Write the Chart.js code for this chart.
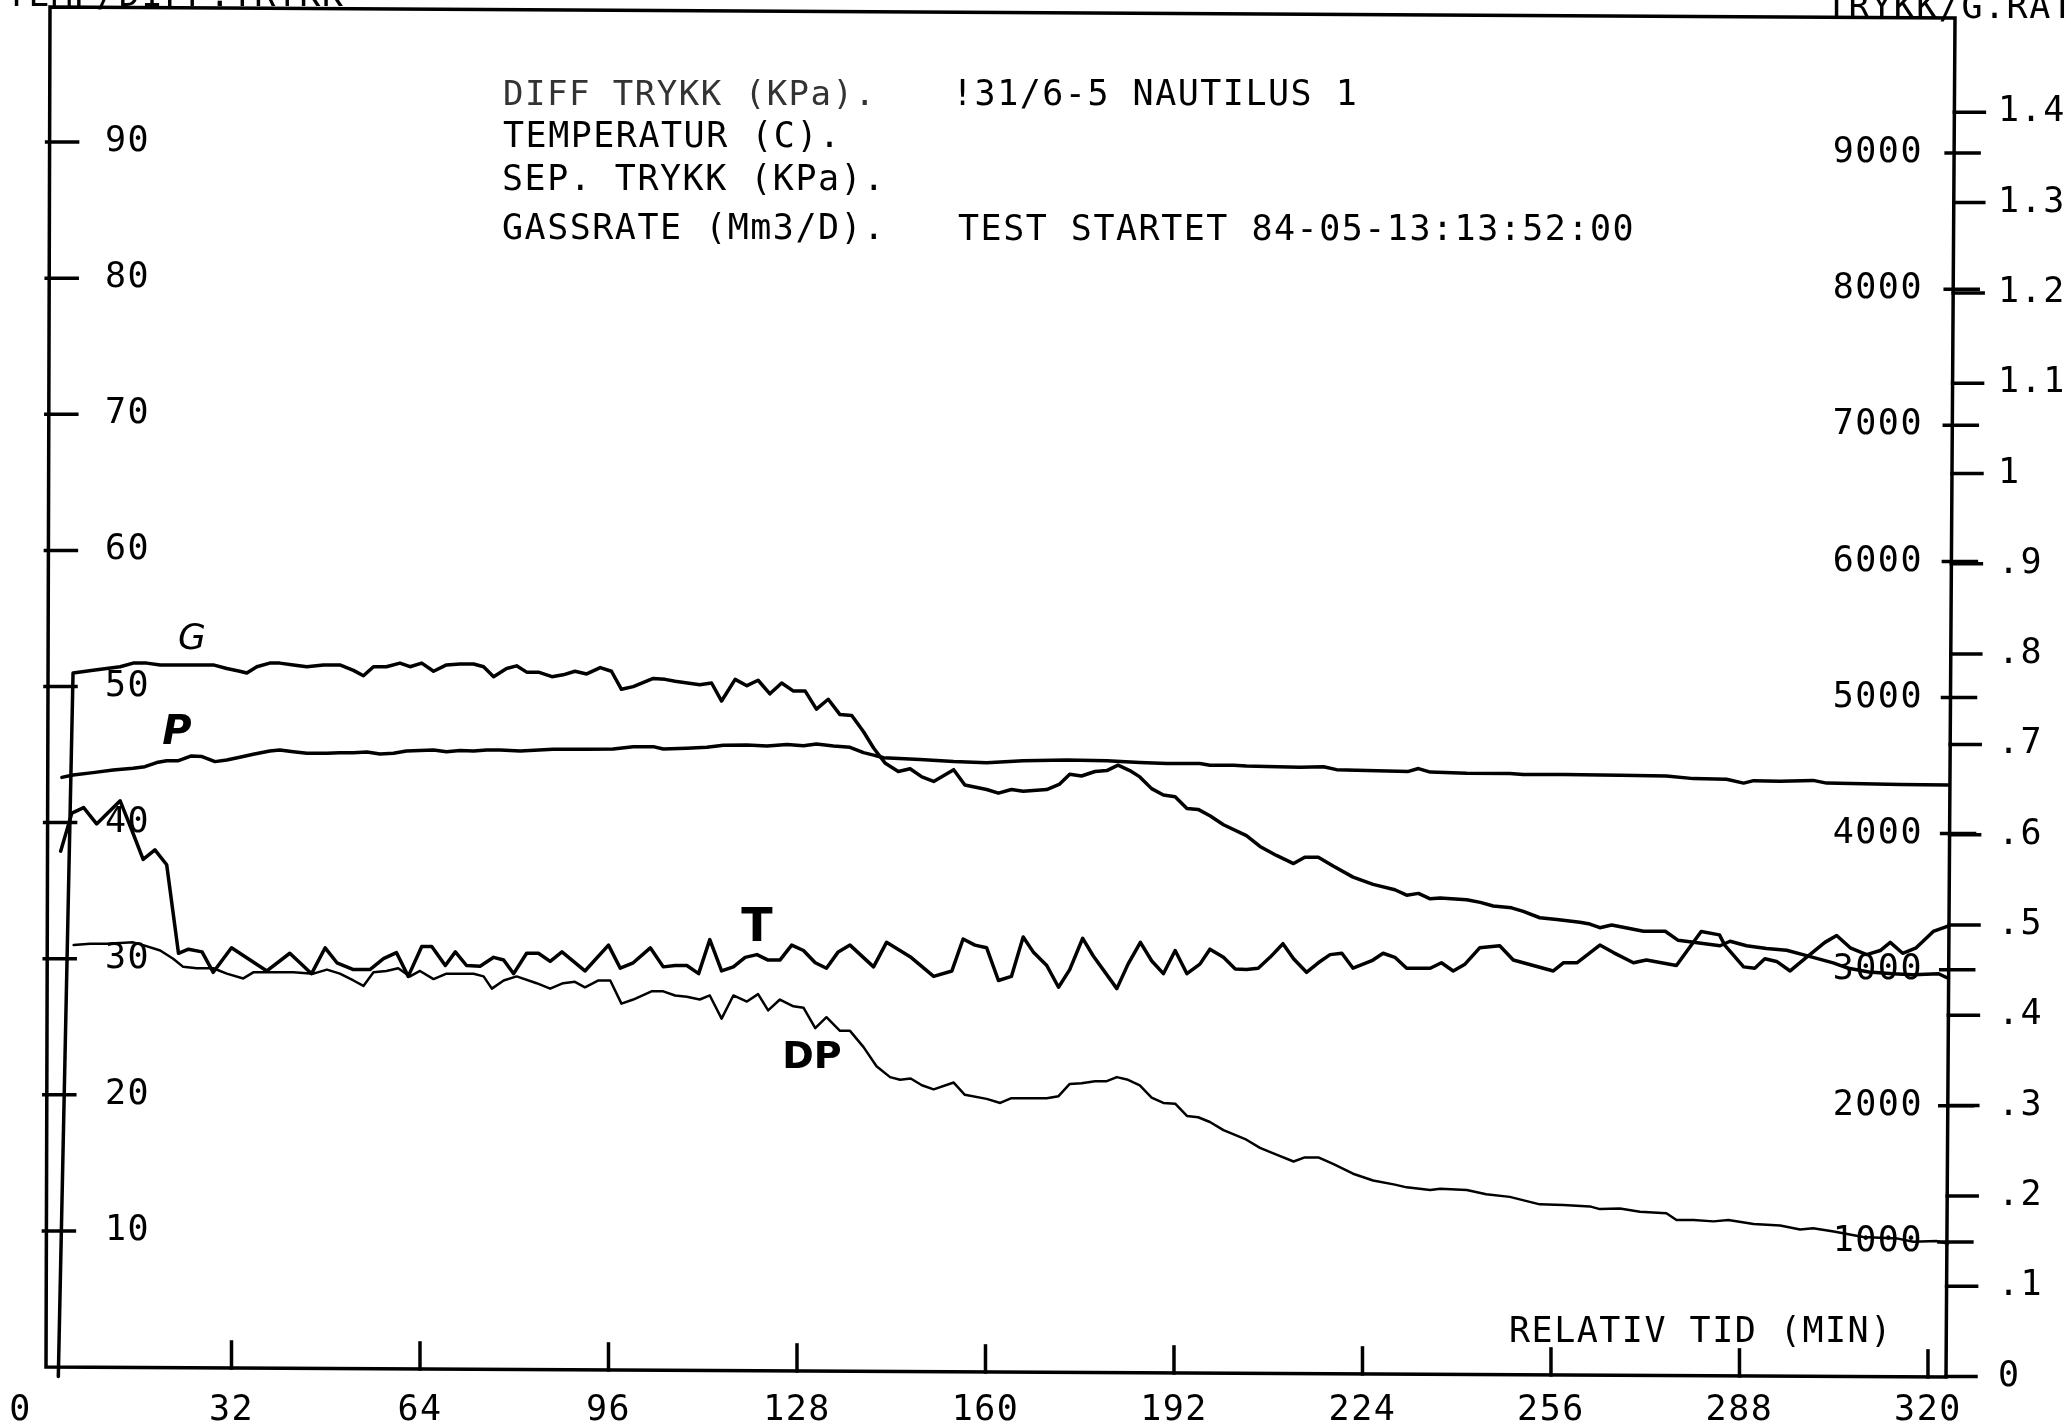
<!DOCTYPE html>
<html>
<head>
<meta charset="utf-8">
<title>31/6-5 NAUTILUS 1</title>
<script src="https://cdn.jsdelivr.net/npm/chart.js@4.4.1/dist/chart.umd.min.js"></script>
<style>
  html, body { margin: 0; padding: 0; background: #fff; }
  #wrap { width: 2071px; height: 1426px; }
</style>
</head>
<body>
<div id="wrap"><canvas id="plot" width="2071" height="1426"></canvas></div>
<script>
/* ---------------- DATA ---------------- */

// relative time axis (min)
const timeTicks = [0, 32, 64, 96, 128, 160, 192, 224, 256, 288, 320];
// left axis: temperature (C) / diff pressure (kPa)
const leftTicks = [10, 20, 30, 40, 50, 60, 70, 80, 90];
// right inner axis: separator pressure (kPa)
const pressTicks = [1000, 2000, 3000, 4000, 5000, 6000, 7000, 8000, 9000];
// right outer axis: gas rate (Mm3/D)
const rateTicks = [0, 0.1, 0.2, 0.3, 0.4, 0.5, 0.6, 0.7, 0.8, 0.9, 1, 1.1, 1.2, 1.3, 1.4];

// G - gas rate
const gasMin = [
  2.6, 5.1, 8.5, 10.8, 13.1, 15.3, 17.6, 19.9, 22.1, 26.7,
  28.9, 31.2, 33.4, 34.6, 36.3, 38.5, 40.2, 42.5, 44.8, 47.6,
  50.4, 52.7, 54.4, 56.1, 58.3, 60.6, 62.3, 64.3, 66.3, 68.5,
  70.8, 73.1, 74.8, 76.5, 78.7, 80.4, 82.1, 84.1, 86.4, 88.3,
  90.3, 92.3, 94.6, 96.5, 98.2, 100.2, 103.6, 105.6, 107.3, 111.5,
  113.5, 115.2, 117.5, 119.5, 121.4, 123.4, 125.4, 127.4, 129.4, 131.3,
  133.3, 135.3, 137.3, 139.3, 141.0, 143.0, 145.2, 147.2, 149.2, 151.2,
  154.6, 156.5, 160.2, 162.2, 164.4, 166.4, 170.4, 172.6, 174.3, 176.3,
  178.6, 180.6, 182.5, 184.5, 186.2, 188.2, 190.2, 192.2, 194.2, 196.1,
  198.1, 200.4, 204.3, 206.6, 209.4, 212.3, 214.2, 216.5, 219.1, 222.4,
  225.8, 229.5, 231.5, 233.5, 235.5, 237.2, 241.7, 244.0, 246.2, 249.3,
  251.3, 254.1, 257.0, 260.9, 262.6, 264.3, 266.3, 271.7, 275.4, 277.6,
  280.2, 284.7, 286.4, 289.2, 292.6, 296.0, 299.4, 303.9, 306.5, 310.0,
  314.0, 317.5, 321.8, 323.4
];
const gasRate = [
  0, 0.779, 0.782, 0.784, 0.786, 0.790, 0.790, 0.788, 0.788, 0.788,
  0.788, 0.784, 0.781, 0.779, 0.786, 0.790, 0.790, 0.788, 0.786, 0.788,
  0.788, 0.782, 0.776, 0.786, 0.786, 0.790, 0.786, 0.790, 0.781, 0.788,
  0.789, 0.789, 0.786, 0.775, 0.784, 0.787, 0.780, 0.780, 0.775, 0.777,
  0.781, 0.778, 0.785, 0.781, 0.761, 0.764, 0.773, 0.772, 0.770, 0.766,
  0.768, 0.748, 0.772, 0.765, 0.771, 0.756, 0.768, 0.759, 0.759, 0.739,
  0.750, 0.733, 0.732, 0.714, 0.696, 0.679, 0.670, 0.673, 0.664, 0.659,
  0.672, 0.655, 0.650, 0.646, 0.650, 0.648, 0.650, 0.656, 0.667, 0.665,
  0.670, 0.671, 0.677, 0.671, 0.664, 0.651, 0.644, 0.642, 0.629, 0.628,
  0.621, 0.611, 0.599, 0.587, 0.577, 0.568, 0.575, 0.575, 0.565, 0.553,
  0.545, 0.539, 0.533, 0.535, 0.529, 0.530, 0.528, 0.525, 0.521, 0.519,
  0.515, 0.508, 0.506, 0.503, 0.501, 0.497, 0.500, 0.493, 0.493, 0.483,
  0.481, 0.477, 0.482, 0.477, 0.474, 0.472, 0.466, 0.458, 0.452, 0.448,
  0.446, 0.445, 0.446, 0.441
];

// P - separator pressure
const sepMin = [
  3.2, 5.1, 8.5, 11.9, 15.3, 17.3, 19.3, 21.0, 23.0, 25.2,
  27.0, 29.2, 31.2, 33.4, 35.7, 38.5, 40.2, 42.5, 44.8, 48.2,
  50.4, 52.7, 55.0, 57.2, 59.5, 61.7, 64.0, 66.3, 68.5, 70.8,
  73.1, 75.3, 77.6, 81.0, 86.6, 92.3, 96.8, 100.2, 103.6, 105.3,
  109.3, 112.7, 115.5, 119.5, 122.9, 126.3, 129.1, 131.3, 134.2, 137.0,
  139.3, 141.0, 142.7, 148.9, 154.6, 160.2, 166.4, 173.8, 180.6, 186.2,
  190.8, 196.4, 198.1, 202.1, 204.3, 207.7, 213.4, 217.4, 219.6, 224.7,
  231.8, 233.5, 235.5, 241.7, 249.0, 251.3, 258.1, 267.7, 275.6, 280.2,
  285.8, 288.7, 290.4, 294.9, 300.5, 302.8, 309.0, 315.3, 323.4
];
const sepPressure = [
  4413, 4431, 4448, 4467, 4480, 4492, 4522, 4536, 4536, 4571,
  4566, 4529, 4541, 4561, 4583, 4607, 4615, 4602, 4590, 4590,
  4595, 4595, 4600, 4585, 4590, 4607, 4610, 4615, 4602, 4610,
  4607, 4615, 4615, 4607, 4619, 4619, 4622, 4639, 4639, 4622,
  4627, 4634, 4649, 4651, 4644, 4654, 4646, 4658, 4644, 4634,
  4595, 4577, 4557, 4545, 4530, 4521, 4535, 4541, 4535, 4522,
  4515, 4515, 4503, 4503, 4496, 4494, 4488, 4491, 4470, 4464,
  4457, 4478, 4452, 4444, 4442, 4434, 4434, 4429, 4424, 4404,
  4399, 4371, 4389, 4384, 4391, 4371, 4366, 4361, 4358
];

// T - temperature
const tempMin = [
  3.0, 4.9, 6.9, 9.1, 13.1, 15.3, 17.0, 19.0, 21.0, 23.0,
  24.7, 27.0, 28.9, 32.0, 38.0, 41.9, 45.6, 47.9, 49.9, 52.7,
  55.5, 57.8, 60.0, 62.0, 64.3, 66.0, 68.3, 70.0, 71.9, 74.2,
  76.5, 78.2, 79.9, 82.1, 84.1, 86.1, 88.1, 92.0, 96.0, 98.0,
  100.2, 103.1, 105.3, 107.3, 109.3, 111.3, 113.2, 115.2, 117.2, 119.2,
  121.2, 123.1, 125.1, 127.1, 129.1, 131.1, 133.0, 135.0, 137.0, 141.0,
  143.2, 147.2, 151.2, 154.3, 156.2, 158.2, 160.2, 162.2, 164.4, 166.4,
  168.1, 170.4, 172.4, 174.3, 176.5, 178.3, 182.3, 184.2, 186.3, 188.2,
  190.2, 192.2, 194.2, 196.4, 198.1, 200.4, 202.4, 204.3, 206.3, 208.3,
  210.5, 212.3, 214.5, 216.5, 218.5, 220.5, 222.4, 225.6, 227.5, 229.5,
  231.5, 235.5, 237.4, 239.4, 241.4, 243.9, 247.3, 249.6, 256.4, 258.1,
  260.4, 264.3, 266.6, 270.0, 272.2, 277.3, 281.5, 284.6, 285.5, 288.7,
  290.6, 292.3, 294.3, 296.6, 298.8, 302.5, 304.5, 306.8, 309.6, 311.9,
  313.6, 315.7, 318.0, 320.9, 323.4
];
const temperature = [
  37.9, 40.7, 41.1, 39.9, 41.6, 39.2, 37.3, 38.0, 36.9, 30.4,
  30.7, 30.5, 29.0, 30.8, 29.1, 30.4, 28.9, 30.8, 29.7, 29.2,
  29.2, 30.0, 30.45, 28.7, 30.9, 30.9, 29.5, 30.5, 29.5, 29.45,
  30.1, 29.9, 28.9, 30.4, 30.4, 29.8, 30.5, 29.1, 31.0, 29.3,
  29.7, 30.8, 29.4, 29.5, 29.5, 28.9, 31.4, 29.1, 29.4, 30.1,
  30.3, 29.9, 29.9, 31.0, 30.6, 29.7, 29.3, 30.5, 31.0, 29.4,
  31.2, 30.15, 28.7, 29.1, 31.45, 31.0, 30.8, 28.4, 28.7, 31.6,
  30.5, 29.5, 27.9, 29.2, 31.5, 30.2, 27.8, 29.6, 31.2, 29.85,
  28.9, 30.6, 28.9, 29.6, 30.7, 30.1, 29.25, 29.2, 29.3, 30.1,
  31.1, 30.0, 29.0, 29.7, 30.3, 30.4, 29.3, 29.85, 30.4, 30.1,
  29.3, 29.3, 29.7, 29.1, 29.6, 30.8, 30.95, 29.9, 29.1, 29.7,
  29.7, 31.0, 30.45, 29.7, 29.9, 29.5, 32.0, 31.75, 31.0, 29.4,
  29.3, 30.0, 29.8, 29.1, 29.9, 31.2, 31.7, 30.8, 30.3, 30.6,
  31.2, 30.4, 30.8, 32.0, 32.4
];

// DP - differential pressure
const dpMin = [
  5.2, 8.0, 10.8, 15.3, 17.0, 19.9, 22.1, 23.8, 26.1, 28.9,
  31.2, 34.0, 35.7, 38.0, 42.5, 45.9, 48.2, 50.4, 52.7, 54.4,
  56.1, 58.3, 60.3, 62.3, 64.0, 66.3, 68.5, 70.8, 73.1, 74.8,
  76.2, 78.2, 80.4, 83.8, 86.1, 88.3, 90.3, 92.0, 94.3, 96.3,
  98.2, 100.2, 103.3, 105.3, 107.3, 109.3, 111.5, 113.2, 115.2, 117.2,
  119.5, 121.4, 123.1, 125.1, 127.4, 129.1, 131.1, 133.0, 135.3, 137.0,
  139.3, 141.5, 143.8, 145.5, 147.3, 149.2, 151.2, 154.6, 156.5, 160.2,
  162.5, 164.4, 170.4, 172.4, 174.3, 176.3, 178.6, 180.6, 182.3, 184.2,
  186.2, 188.2, 190.2, 192.2, 194.2, 196.1, 198.1, 200.4, 204.3, 206.6,
  209.4, 212.3, 214.2, 216.5, 219.1, 222.4, 225.8, 229.5, 231.5, 235.5,
  237.2, 241.7, 245.0, 249.0, 254.1, 258.1, 262.6, 264.3, 267.7, 271.1,
  275.6, 277.3, 280.2, 283.6, 286.1, 290.4, 294.9, 298.3, 300.5, 304.0,
  309.0, 314.7, 317.5, 321.5, 323.4
];
const diffPressure = [
  31.0, 31.1, 31.1, 31.2, 31.0, 30.6, 30.0, 29.4, 29.3, 29.3,
  28.9, 28.55, 29.0, 29.0, 29.0, 28.9, 29.2, 28.9, 28.4, 28.0,
  29.0, 29.1, 29.3, 28.7, 29.1, 28.5, 28.9, 28.9, 28.9, 28.7,
  27.8, 28.4, 28.7, 28.2, 27.8, 28.2, 28.3, 27.9, 28.4, 28.4,
  26.7, 27.0, 27.6, 27.6, 27.3, 27.2, 27.0, 27.3, 25.6, 27.3,
  26.85, 27.4, 26.2, 27.0, 26.5, 26.4, 24.9, 25.7, 24.7, 24.7,
  23.5, 22.1, 21.3, 21.1, 21.2, 20.7, 20.4, 20.9, 20.0, 19.7,
  19.4, 19.75, 19.75, 19.9, 20.8, 20.85, 21.0, 21.0, 21.3, 21.1,
  20.7, 19.8, 19.4, 19.35, 18.45, 18.35, 18.0, 17.4, 16.7, 16.1,
  15.6, 15.1, 15.4, 15.4, 14.9, 14.2, 13.7, 13.4, 13.2, 13.0,
  13.1, 13.0, 12.7, 12.5, 11.95, 11.9, 11.8, 11.6, 11.65, 11.4,
  11.3, 10.8, 10.8, 10.7, 10.8, 10.5, 10.4, 10.1, 10.2, 9.95,
  9.55, 9.45, 9.2, 9.25, 9.05
];

/* ---------------- PLOTTER SHEET LOOK ---------------- */

const INK = "#000";
const MONO = '"DejaVu Sans Mono", "Liberation Mono", monospace';
const tickFont = { family: MONO, size: 35 };

// the scanned sheet is turned a little, so the frame is not square
const frame = { tl: [50, 7], tr: [1955, 18], br: [1946, 1377], bl: [46, 1367] };

function leftX(y) {
    return frame.tl[0] + (y - frame.tl[1]) * (frame.bl[0] - frame.tl[0]) / (frame.bl[1] - frame.tl[1]);
}
function rightX(y) {
    return frame.tr[0] + (y - frame.tr[1]) * (frame.br[0] - frame.tr[0]) / (frame.br[1] - frame.tr[1]);
}
function bottomY(x) {
    return frame.bl[1] + (x - frame.bl[0]) * (frame.br[1] - frame.bl[1]) / (frame.br[0] - frame.bl[0]);
}

function pairs(xs, ys) {
    return xs.map((x, i) => ({ x: x, y: ys[i] }));
}

function rateLabel(v) {
    let s = Number(v).toFixed(1);
    if (s === "0.0") return "0";
    if (s.endsWith(".0")) s = s.slice(0, -2);
    if (s.startsWith("0.")) s = s.slice(1);
    return s;
}

// keep the plot box fixed: no extra room for the end labels
function pinSize(prop, size) {
    return s => {
        s[prop] = size;
        s.paddingTop = 0;
        s.paddingBottom = 0;
        s.paddingLeft = 0;
        s.paddingRight = 0;
    };
}

function drawLine(ctx, x1, y1, x2, y2) {
    ctx.beginPath();
    ctx.moveTo(x1, y1);
    ctx.lineTo(x2, y2);
    ctx.stroke();
}

function drawText(ctx, str, x, y, font) {
    ctx.font = font;
    ctx.fillText(str, x, y);
}

const plotterSheet = {
    id: "plotterSheet",

    beforeDraw(chart) {
        const ctx = chart.ctx;
        ctx.save();
        ctx.fillStyle = "#fff";
        ctx.fillRect(0, 0, chart.width, chart.height);
        ctx.restore();
        ctx.letterSpacing = "1.5px";
    },

    afterDraw(chart) {
        const ctx = chart.ctx;
        const sx = chart.scales.x;
        const sy = chart.scales.y;
        const sp = chart.scales.y2;
        const sg = chart.scales.y3;

        ctx.save();
        ctx.strokeStyle = INK;
        ctx.fillStyle = INK;
        ctx.lineWidth = 3.5;
        ctx.lineCap = "square";

        /* -------- FRAME -------- */
        ctx.beginPath();
        ctx.moveTo(frame.tl[0], frame.tl[1]);
        ctx.lineTo(frame.tr[0], frame.tr[1]);
        ctx.lineTo(frame.br[0], frame.br[1]);
        ctx.lineTo(frame.bl[0], frame.bl[1]);
        ctx.closePath();
        ctx.stroke();

        /* -------- TICK MARKS -------- */
        leftTicks.forEach(v => {
            const y = sy.getPixelForValue(v);
            drawLine(ctx, leftX(y) - 3, y, leftX(y) + 28, y);
        });
        pressTicks.forEach(v => {
            const y = sp.getPixelForValue(v);
            drawLine(ctx, rightX(y) - 8, y, rightX(y) + 25, y);
        });
        rateTicks.forEach(v => {
            const y = sg.getPixelForValue(v);
            drawLine(ctx, rightX(y), y, rightX(y) + 30, y);
        });
        timeTicks.slice(1).forEach(v => {
            const x = sx.getPixelForValue(v);
            drawLine(ctx, x, bottomY(x), x, bottomY(x) - 26);
        });

        /* -------- SHEET TEXT -------- */
        const f = "35px " + MONO;
        ctx.textBaseline = "alphabetic";
        ctx.textAlign = "left";

        drawText(ctx, "TEMP/DIFF.TRYKK", 6, 6, f);
        drawText(ctx, "TRYKK/G.RATE", 1826, 18, f);

        ctx.fillStyle = "#333";
        drawText(ctx, "DIFF TRYKK (KPa).", 503, 105, "34px " + MONO);
        ctx.fillStyle = INK;
        drawText(ctx, "TEMPERATUR (C).", 503, 147, f);
        drawText(ctx, "SEP. TRYKK (KPa).", 502, 190, f);
        drawText(ctx, "GASSRATE (Mm3/D).", 502, 239, f);
        drawText(ctx, "!31/6-5 NAUTILUS 1", 952, 105, f);
        drawText(ctx, "TEST STARTET 84-05-13:13:52:00", 958, 240, f);
        drawText(ctx, "RELATIV TID (MIN)", 1509, 1342, f);

        /* -------- HAND WRITTEN CURVE NAMES -------- */
        ctx.letterSpacing = "0px";
        ctx.textAlign = "center";
        ctx.textBaseline = "middle";
        drawText(ctx, "G", 192, 640, 'italic 36px "DejaVu Sans"');
        drawText(ctx, "P", 177, 734, 'italic bold 40px "DejaVu Sans"');
        drawText(ctx, "T", 757, 929, 'bold 46px "DejaVu Sans"');
        drawText(ctx, "DP", 812, 1058, 'bold 38px "DejaVu Sans"');

        ctx.restore();
    }
};

/* ---------------- CHART ---------------- */

const penLine = {
    borderColor: INK,
    borderWidth: 3.5,
    pointRadius: 0,
    tension: 0,
    fill: false,
    clip: false,
    borderJoinStyle: "round",
    borderCapStyle: "round"
};

const noGrid = { display: false, drawTicks: false };
const noBorder = { display: false };

const plot = new Chart(document.getElementById("plot"), {
    type: "line",
    data: {
        datasets: [
            Object.assign({ label: "GASSRATE (Mm3/D)", data: pairs(gasMin, gasRate), yAxisID: "y3" }, penLine),
            Object.assign({ label: "SEP. TRYKK (KPa)", data: pairs(sepMin, sepPressure), yAxisID: "y2" }, penLine),
            Object.assign({ label: "TEMPERATUR (C)", data: pairs(tempMin, temperature), yAxisID: "y" }, penLine),
            Object.assign({ label: "DIFF TRYKK (KPa)", data: pairs(dpMin, diffPressure), yAxisID: "y" }, penLine, { borderWidth: 2.5 })
        ]
    },
    options: {
        responsive: false,
        animation: false,
        devicePixelRatio: 1,
        layout: { padding: { top: 6, left: 0, right: 0, bottom: 0 } },
        plugins: {
            legend: { display: false },
            tooltip: { enabled: false }
        },
        scales: {
            x: {
                type: "linear",
                min: 0,
                max: 323.4,
                grid: noGrid,
                border: noBorder,
                afterBuildTicks: s => { s.ticks = timeTicks.map(v => ({ value: v })); },
                afterFit: pinSize("height", 59),
                ticks: {
                    font: tickFont,
                    color: INK,
                    padding: 23,
                    autoSkip: false,
                    maxRotation: 0,
                    // the plotter wrote its "0" left of the corner
                    callback: v => (v === 0 ? "0  " : String(v))
                }
            },
            y: {
                position: "left",
                min: 0,
                max: 100,
                grid: noGrid,
                border: noBorder,
                afterBuildTicks: s => { s.ticks = leftTicks.map(v => ({ value: v })); },
                afterFit: pinSize("width", 43),
                ticks: {
                    mirror: true,
                    padding: 62,
                    font: tickFont,
                    color: INK,
                    autoSkip: false,
                    callback: v => String(v)
                }
            },
            // right side scales sit ~10px lower on the turned sheet
            y2: {
                position: "right",
                weight: 0,
                min: 80.8,
                max: 10081,
                grid: noGrid,
                border: noBorder,
                afterBuildTicks: s => { s.ticks = pressTicks.map(v => ({ value: v })); },
                afterFit: pinSize("width", 0),
                ticks: {
                    mirror: true,
                    padding: -25,
                    font: tickFont,
                    color: INK,
                    autoSkip: false,
                    callback: v => String(v)
                }
            },
            y3: {
                position: "right",
                weight: 1,
                min: 0.0105,
                max: 1.5177,
                grid: noGrid,
                border: noBorder,
                afterBuildTicks: s => { s.ticks = rateTicks.map(v => ({ value: v })); },
                afterFit: pinSize("width", 123),
                ticks: {
                    padding: 50,
                    font: tickFont,
                    color: INK,
                    autoSkip: false,
                    callback: v => rateLabel(v)
                }
            }
        }
    },
    plugins: [plotterSheet]
});
</script>
</body>
</html>
